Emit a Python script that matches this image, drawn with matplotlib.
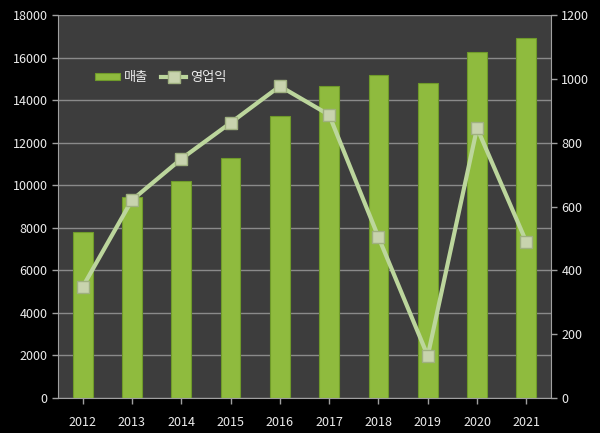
import matplotlib
matplotlib.use("Agg")
import matplotlib.pyplot as plt
import numpy as np

plt.rcParams["font.family"] = ["Noto Sans CJK KR", "DejaVu Sans"]

years = ["2012", "2013", "2014", "2015", "2016", "2017", "2018", "2019", "2020", "2021"]
sales = [7800, 9450, 10200, 11300, 13250, 14650, 15200, 14800, 16250, 16900]
profit = [348, 620, 749, 862, 977, 887, 504, 132, 846, 489]

bar_color = "#8fbb3e"
line_color = "#bcd69c"
text_color = "#ececec"
grid_color = "#8a8a8a"

fig = plt.figure(figsize=(6, 4.33), dpi=100, facecolor="black")
ax = fig.add_axes([58 / 600, 35 / 433, 493 / 600, 383 / 433])
ax.set_facecolor("#3d3d3d")

x = np.arange(len(years))
ax.bar(x, sales, width=0.4, color=bar_color, edgecolor="#6f9a2a",
       linewidth=0.8, zorder=2, label="매출")
ax.set_ylim(0, 18000)
ax.set_yticks(range(0, 18001, 2000))
ax.set_xlim(-0.5, len(years) - 0.5)
ax.set_xticks(x)
ax.set_xticklabels(years)
ax.yaxis.grid(True, color=grid_color, linewidth=1, zorder=0)
ax.set_axisbelow(True)

ax2 = ax.twinx()
ax2.plot(x, profit, color=line_color, linewidth=3, marker="s", markersize=9,
         markerfacecolor="#c8d3ae", markeredgecolor="#9fb080",
         markeredgewidth=1, zorder=3, label="영업익")
ax2.set_ylim(0, 1200)
ax2.set_yticks(range(0, 1201, 200))

for a in (ax, ax2):
    for side in a.spines:
        a.spines[side].set_visible(False)
    a.tick_params(colors="#a0a0a0", labelcolor=text_color, labelsize=9,
                  length=4, width=1)
ax.spines["left"].set_visible(True)
ax.spines["left"].set_color("#a0a0a0")
ax.spines["bottom"].set_visible(True)
ax.spines["bottom"].set_color("#a0a0a0")
ax2.spines["right"].set_visible(True)
ax2.spines["right"].set_color("#a0a0a0")
ax.tick_params(axis="x", pad=9)

handles = [ax.patches[0], ax2.lines[0]]
leg = ax.legend(handles, ["매출", "영업익"], loc="upper left",
                bbox_to_anchor=(0.05, 0.885), ncol=2, frameon=False,
                fontsize=9.5, handlelength=1.9, handleheight=0.45,
                columnspacing=1.0, handletextpad=0.3)
for t in leg.get_texts():
    t.set_color(text_color)

fig.savefig("out.png", dpi=100, facecolor="black")
